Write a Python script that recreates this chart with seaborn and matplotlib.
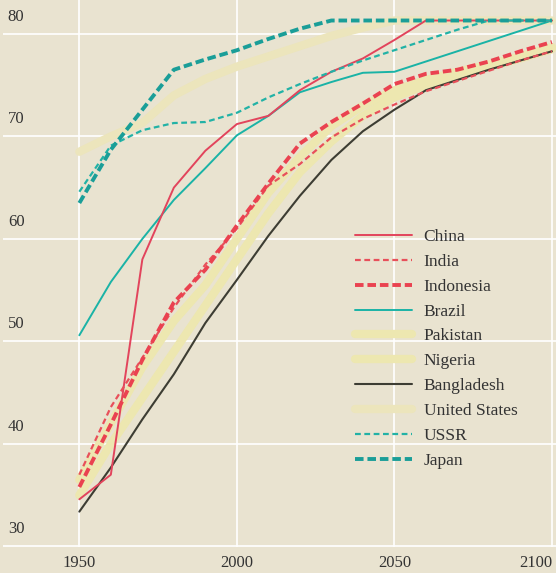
import matplotlib
matplotlib.use("Agg")
import matplotlib.pyplot as plt
from matplotlib.transforms import ScaledTranslation
import seaborn as sns

# life expectancy at birth (years), 1950-2100
years = [1950, 1960, 1970, 1980, 1990, 2000, 2010, 2020,
         2030, 2040, 2050, 2060, 2070, 2080, 2090, 2100]

china = [34.6, 37.0, 58.0, 65.0, 68.6, 71.2, 72.0, 74.5,
         76.3, 77.6, 79.4, 81.3, 81.3, 81.3, 81.3, 81.3]
india = [37.0, 43.6, 48.4, 53.3, 57.5, 61.0, 65.2, 67.3,
         69.9, 71.7, 73.1, 74.4, 75.4, 76.4, 77.4, 78.3]
indonesia = [35.8, 41.9, 48.2, 53.8, 57.0, 61.3, 65.4, 69.3,
             71.4, 73.2, 75.1, 76.1, 76.5, 77.3, 78.3, 79.2]
brazil = [50.6, 55.8, 60.0, 63.8, 66.9, 70.1, 72.0, 74.3,
          75.3, 76.2, 76.3, 77.3, 78.3, 79.3, 80.3, 81.3]
pakistan = [36.5, 42.0, 47.5, 52.0, 55.5, 60.0, 64.5, 68.0,
            71.0, 73.0, 74.5, 75.5, 76.3, 77.0, 77.8, 78.7]
nigeria = [35.0, 40.0, 44.5, 49.0, 53.5, 58.0, 62.5, 66.5,
           69.5, 72.0, 73.8, 75.0, 76.0, 76.8, 77.6, 78.5]
bangladesh = [33.4, 37.7, 42.4, 46.8, 51.8, 56.0, 60.3, 64.2,
              67.7, 70.5, 72.6, 74.5, 75.5, 76.5, 77.4, 78.3]
united_states = [68.5, 70.0, 71.3, 74.0, 75.6, 76.8, 77.8, 78.8,
                 79.8, 80.6, 81.3, 81.3, 81.3, 81.3, 81.3, 81.3]
ussr = [64.6, 69.1, 70.6, 71.3, 71.4, 72.3, 73.8, 75.1,
        76.3, 77.4, 78.4, 79.4, 80.4, 81.3, 81.3, 81.3]
japan = [63.5, 68.7, 72.6, 76.5, 77.5, 78.4, 79.5, 80.5,
         81.3, 81.3, 81.3, 81.3, 81.3, 81.3, 81.3, 81.3]

legend_order = ["China", "India", "Indonesia", "Brazil", "Pakistan", "Nigeria",
                "Bangladesh", "United States", "USSR", "Japan"]

bg = "#e9e3d0"
yellow = "#ede7b0"
# name: (values, color, linewidth, linestyle)
series = {
    "Pakistan": (pakistan, yellow, 6, "-"),
    "Nigeria": (nigeria, yellow, 6, "-"),
    "United States": (united_states, "#ece5bc", 6, "-"),
    "Bangladesh": (bangladesh, "#3d3d33", 1.5, "-"),
    "Brazil": (brazil, "#1ab3a6", 1.4, "-"),
    "China": (china, "#e2445c", 1.4, "-"),
    "India": (india, "#e8505a", 1.6, (0, (2.6, 1.6))),
    "Indonesia": (indonesia, "#ea4250", 2.8, (0, (2.2, 1.0))),
    "USSR": (ussr, "#22b2a6", 1.6, (0, (2.6, 1.6))),
    "Japan": (japan, "#1a9e98", 2.8, (0, (2.2, 1.0))),
}

sns.set_theme(style="whitegrid", rc={"axes.facecolor": bg, "figure.facecolor": bg,
                                     "grid.color": "white", "grid.linewidth": 1.2})
plt.rcParams["font.family"] = ["Liberation Serif", "DejaVu Serif"]

fig = plt.figure(figsize=(5.56, 5.73), dpi=100)
ax = fig.add_axes([0.005, 26 / 573, 0.995, 1 - 26 / 573])

for name, (vals, col, lw, ls) in series.items():
    sns.lineplot(x=years, y=vals, color=col, linewidth=lw, linestyle=ls,
                 label=name, ax=ax)

ax.set_xlim(1925.7, 2101.3)
ax.set_ylim(29.95, 83.3)
ax.set_xticks([1950, 2000, 2050, 2100])
ax.set_yticks([30, 40, 50, 60, 70, 80])
for s in ax.spines.values():
    s.set_visible(False)
ax.tick_params(axis="both", length=0, labelsize=12, labelcolor="#333333")
ax.tick_params(axis="x", pad=6)
ax.tick_params(axis="y", pad=0)
ax.get_xticklabels()[-1].set_horizontalalignment("right")
for lab in ax.get_yticklabels():
    lab.set_horizontalalignment("left")
    lab.set_verticalalignment("baseline")
    lab.set_transform(lab.get_transform() + ScaledTranslation(0.05, 0.13, fig.dpi_scale_trans))
ax.set_xlabel("")
ax.set_ylabel("")

handles, labels = ax.get_legend_handles_labels()
lookup = dict(zip(labels, handles))
leg = ax.legend([lookup[n] for n in legend_order], legend_order,
                loc="upper left", bbox_to_anchor=(355 / 556, (573 - 229) / 573),
                bbox_transform=fig.transFigure, frameon=False, borderpad=0,
                borderaxespad=0, handlelength=3.3, handletextpad=0.65,
                labelspacing=0.5, fontsize=12.5)
for t in leg.get_texts():
    t.set_color("#333333")

fig.savefig("out.png", dpi=100, facecolor=bg)
